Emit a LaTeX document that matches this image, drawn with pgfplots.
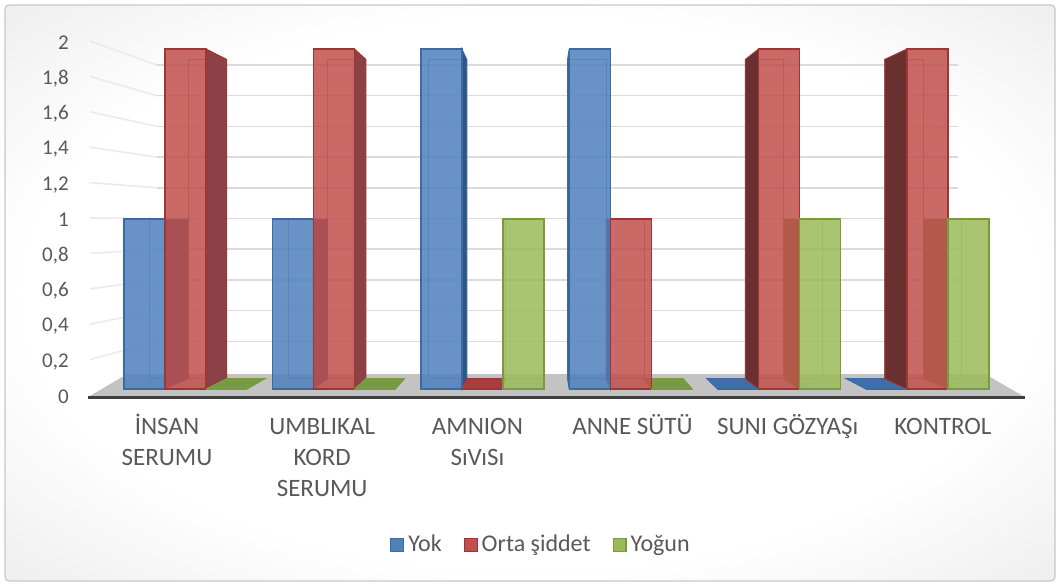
\documentclass[border=0pt]{standalone}
\usepackage{fontspec}
\setmainfont{Carlito}
\usepackage{pgfplots}
\usepackage{pgfplotstable}
\pgfplotsset{compat=1.18}

\definecolor{txt}{HTML}{595959}
\definecolor{blueF}{HTML}{4F81BD}
\definecolor{blueE}{HTML}{3C6AA5}
\definecolor{blueS}{HTML}{2F5585}
\definecolor{blueB}{HTML}{3F6EA8}
\definecolor{redF}{HTML}{C0504D}
\definecolor{redE}{HTML}{A03535}
\definecolor{redS}{HTML}{8C4146}
\definecolor{redL}{HTML}{6A2F2F}
\definecolor{redB}{HTML}{A83E3E}
\definecolor{greenF}{HTML}{9BBB59}
\definecolor{greenE}{HTML}{7A9A3E}
\definecolor{greenS}{HTML}{6F8F3A}
\definecolor{greenB}{HTML}{779B45}
\definecolor{floorC}{HTML}{C3C3C3}
\definecolor{axisC}{HTML}{3F3F3F}

% number of cases per group and severity
\pgfplotstableread{
grp Yok Orta Yogun
0   1   2    0
1   1   2    0
2   2   0    1
3   2   1    0
4   0   2    1
5   0   2    1
}\scores

\pgfdeclareradialshading{chartbg}{\pgfpoint{0bp}{0bp}}{%
  color(0bp)=(white); color(24bp)=(white); color(50bp)=(black!15);
  color(72bp)=(black!21); color(100bp)=(black!21)}

% perspective of the column depth: vanishing point and depth scale
\def\vx{2.409}\def\vy{0.9941}\def\sc{0.939}

% depth parts of one column: back outline, then side face or base
% #1,#2 front left/right x, #3 value, #4 edge colour, #5 side/base colour
\newcommand\prism[5]{%
  \pgfmathsetmacro\bxa{\vx+(#1-\vx)*\sc}%
  \pgfmathsetmacro\bxb{\vx+(#2-\vx)*\sc}%
  \pgfmathsetmacro\bya{\vy*(1-\sc)}%
  \pgfmathsetmacro\byb{\vy+(#3-\vy)*\sc}%
  \edef\next{\noexpand\addplot[forget plot, draw=#4, draw opacity=0.6, line width=0.5pt]
    coordinates {(\bxa,\bya) (\bxa,\byb) (\bxb,\byb) (\bxb,\bya)} -- cycle;}%
  \next
  \let\next\relax
  \ifdim #3pt=0pt
    \edef\next{\noexpand\addplot[forget plot, fill=#5, draw=#4, line width=0.5pt]
      coordinates {(#1,0) (#2,0) (\bxb,\bya) (\bxa,\bya)} -- cycle;}%
  \else
    \ifdim #2pt<\vx pt
      \edef\next{\noexpand\addplot[forget plot, fill=#5, draw=#4, line width=0.5pt]
        coordinates {(#2,0) (#2,#3) (\bxb,\byb) (\bxb,\bya)} -- cycle;}%
    \fi
    \ifdim #1pt>\vx pt
      \edef\next{\noexpand\addplot[forget plot, fill=#5, draw=#4, line width=0.5pt]
        coordinates {(#1,0) (#1,#3) (\bxa,\byb) (\bxa,\bya)} -- cycle;}%
    \fi
  \fi
  \next
}

\pgfplotsset{sq/.style={legend image code/.code={%
  \draw[##1,/tikz/.cd,fill opacity=1,line width=0.6pt] (0pt,-3.2pt) rectangle (6.4pt,3.2pt);}}}

\begin{document}
\begin{tikzpicture}
\useasboundingbox (0,0) rectangle (530pt,293pt);
\fill[white] (0,0) rectangle (530pt,293pt);
\shade[shading=chartbg, rounded corners=2pt] (2.5pt,2.5pt) rectangle (527.5pt,290.5pt);
\draw[black!22, line width=0.6pt, rounded corners=2pt] (2.5pt,2.5pt) rectangle (527.5pt,290.5pt);
\begin{axis}[
  at={(44.15pt,94.25pt)}, anchor=south west,
  scale only axis, width=468.2pt, height=178.5pt,
  xmin=-0.655, xmax=5.655, ymin=-0.05, ymax=2.05,
  enlargelimits=false, clip=false,
  axis line style={draw=none}, major tick length=0pt,
  xtick={-0.125,0.921,1.967,3.012,4.058,5.104},
  xticklabels={{\strut İNSAN\\SERUMU},{\strut UMBLIKAL\\KORD\\SERUMU},{\strut AMNION\\SıVıSı},{\strut ANNE SÜTÜ},{\strut SUNI GÖZYAŞı},{\strut KONTROL}},
  xticklabel style={align=center, anchor=north, inner sep=0pt, yshift=-7.4pt,
    font=\fontsize{12.5}{15.5}\selectfont, text=txt},
  ytick={-0.047,0.1612,0.3694,0.5776,0.7858,0.994,1.2022,1.4104,1.6186,1.8268,2.035},
  yticklabels={0,{0,2},{0,4},{0,6},{0,8},1,{1,2},{1,4},{1,6},{1,8},2},
  yticklabel style={anchor=east, inner sep=0pt, xshift=-9.6pt,
    font=\fontsize{10.5}{12}\selectfont, text=txt},
  legend style={at={(0.4845,-0.4132)}, anchor=center, draw=none,
    fill=white, fill opacity=0.45, text opacity=1,
    inner xsep=8pt, inner ysep=4pt,
    font=\fontsize{12}{14}\selectfont, text=txt,
    /tikz/every even column/.append style={column sep=9pt}},
  legend columns=-1,
]
% back wall grid
\addplot[forget plot, black!14, line width=0.8pt] coordinates {(-0.192,0.2806) (5.205,0.2806)};
\addplot[forget plot, black!14, line width=0.8pt] coordinates {(-0.192,0.4612) (5.205,0.4612)};
\addplot[forget plot, black!14, line width=0.8pt] coordinates {(-0.192,0.6418) (5.205,0.6418)};
\addplot[forget plot, black!14, line width=0.8pt] coordinates {(-0.192,0.8224) (5.205,0.8224)};
\addplot[forget plot, black!14, line width=0.8pt] coordinates {(-0.192,1.0030) (5.205,1.0030)};
\addplot[forget plot, black!14, line width=0.8pt] coordinates {(-0.192,1.1836) (5.205,1.1836)};
\addplot[forget plot, black!14, line width=0.8pt] coordinates {(-0.192,1.3642) (5.205,1.3642)};
\addplot[forget plot, black!14, line width=0.8pt] coordinates {(-0.192,1.5448) (5.205,1.5448)};
\addplot[forget plot, black!14, line width=0.8pt] coordinates {(-0.192,1.7254) (5.205,1.7254)};
\addplot[forget plot, black!14, line width=0.8pt] coordinates {(-0.192,1.9060) (5.205,1.9060)};
% side wall grid
\addplot[forget plot, black!8, line width=0.8pt] coordinates {(-0.6435,0.1729) (-0.192,0.2806)};
\addplot[forget plot, black!8, line width=0.8pt] coordinates {(-0.6435,0.3810) (-0.192,0.4612)};
\addplot[forget plot, black!8, line width=0.8pt] coordinates {(-0.6435,0.5894) (-0.192,0.6418)};
\addplot[forget plot, black!8, line width=0.8pt] coordinates {(-0.6435,0.7977) (-0.192,0.8224)};
\addplot[forget plot, black!8, line width=0.8pt] coordinates {(-0.6435,1.0059) (-0.192,1.0030)};
\addplot[forget plot, black!8, line width=0.8pt] coordinates {(-0.6435,1.2141) (-0.192,1.1836)};
\addplot[forget plot, black!8, line width=0.8pt] coordinates {(-0.6435,1.4224) (-0.192,1.3642)};
\addplot[forget plot, black!8, line width=0.8pt] coordinates {(-0.6435,1.6306) (-0.192,1.5448)};
\addplot[forget plot, black!8, line width=0.8pt] coordinates {(-0.6435,1.8388) (-0.192,1.7254)};
\addplot[forget plot, black!8, line width=0.8pt] coordinates {(-0.6435,2.0470) (-0.192,1.9060)};
% floor and category axis
\addplot[forget plot, fill=floorC, draw=none] coordinates {(-0.655,-0.047) (5.655,-0.047) (5.387,0.088) (-0.3935,0.088)} -- cycle;
\addplot[forget plot, draw=axisC, line width=1.6pt] coordinates {(-0.655,-0.05) (5.655,-0.05)};

% column depth
\prism{-0.4145}{-0.1382}{1}{blueE}{blueS}
\prism{-0.1382}{0.1382}{2}{redE}{redS}
\prism{0.1382}{0.4145}{0}{greenE}{greenB}
\prism{0.5855}{0.8618}{1}{blueE}{blueS}
\prism{0.8618}{1.1382}{2}{redE}{redS}
\prism{1.1382}{1.4145}{0}{greenE}{greenB}
\prism{1.5855}{1.8618}{2}{blueE}{blueS}
\prism{1.8618}{2.1382}{0}{redE}{redB}
\prism{2.1382}{2.4145}{1}{greenE}{greenS}
\prism{2.5855}{2.8618}{2}{blueE}{blueS}
\prism{2.8618}{3.1382}{1}{redE}{redL}
\prism{3.1382}{3.4145}{0}{greenE}{greenB}
\prism{3.5855}{3.8618}{0}{blueE}{blueB}
\prism{3.8618}{4.1382}{2}{redE}{redL}
\prism{4.1382}{4.4145}{1}{greenE}{greenS}
\prism{4.5855}{4.8618}{0}{blueE}{blueB}
\prism{4.8618}{5.1382}{2}{redE}{redL}
\prism{5.1382}{5.4145}{1}{greenE}{greenS}

% column fronts
\addplot[ybar, bar width=0.2763, bar shift=-0.2763, fill=blueF, fill opacity=0.85,
  draw=blueE, line width=0.7pt, sq] table[x=grp, y=Yok] {\scores};
\addlegendentry{Yok}
\addplot[ybar, bar width=0.2763, bar shift=0, fill=redF, fill opacity=0.85,
  draw=redE, line width=0.7pt, sq] table[x=grp, y=Orta] {\scores};
\addlegendentry{Orta şiddet}
\addplot[ybar, bar width=0.2763, bar shift=0.2763, fill=greenF, fill opacity=0.85,
  draw=greenE, line width=0.7pt, sq] table[x=grp, y=Yogun] {\scores};
\addlegendentry{Yoğun}
\end{axis}
\end{tikzpicture}
\end{document}
